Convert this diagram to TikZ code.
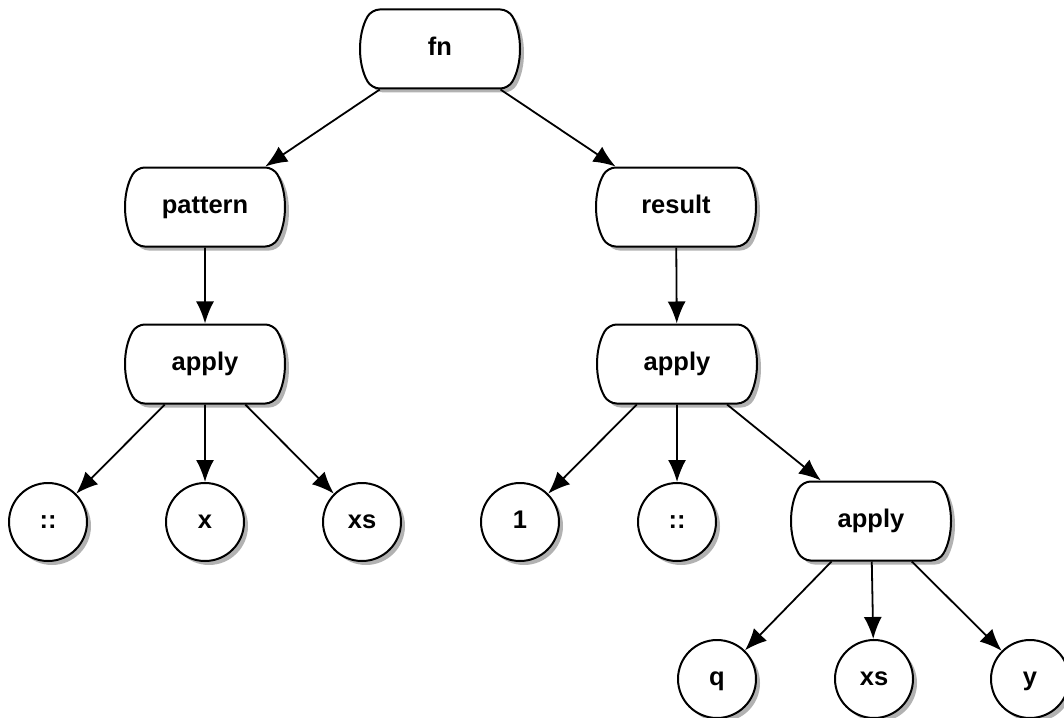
\documentclass[tikz,border=0pt]{standalone}
\usepackage{fontspec}
\setmainfont{Liberation Sans}
\usetikzlibrary{arrows.meta,shapes.misc,shadows}
\begin{document}
\begin{tikzpicture}[x=0.5pt,y=-0.5pt,>={Latex[length=11pt,width=9pt]},line join=round,font=\fontsize{12.75}{15}\selectfont\bfseries]
	\tikzset{
		shade/.style={drop shadow={shadow xshift=2pt,shadow yshift=-2pt,fill=black,opacity=.3}},
		box/.style={rounded rectangle,rounded rectangle arc length=60,rounded corners=4pt,draw,line width=1pt,fill=white,minimum height=39.5pt,inner sep=2pt,text height=9.3pt,text depth=2.8pt,shade},
		leaf/.style={circle,draw,line width=1pt,fill=white,minimum size=39pt,inner sep=0pt,text height=9.3pt,text depth=2.8pt,shade},
		link/.style={->,line width=.9pt}
	}
	\useasboundingbox (0,0) rectangle (1064,717);
	% inner nodes
	\node[box,minimum width=68pt] (fn) at (440,49) {fn};
	\node[box,minimum width=78pt] (pattern) at (205,207) {pattern};
	\node[box,minimum width=68.5pt] (result) at (676,207) {result};
	\node[box,minimum width=78.5pt] (applyL) at (205,364) {apply};
	\node[box,minimum width=78.5pt] (applyR) at (677,364) {apply};
	\node[box,minimum width=78.5pt] (applyB) at (871,521) {apply};
	% leaves
	\foreach \name/\x/\y/\txt in {c1/48/522/::,x1/205/522/x,xs1/362/522/xs,one/520/522/1,c2/677/522/::,q/717/679/q,xs2/874/679/xs,y1/1030/679/y}{
		\node[leaf] (\name) at (\x,\y) {\txt};
	}
	% edges
	\foreach \a/\b in {fn/pattern,fn/result,pattern/applyL,result/applyR,applyL/c1,applyL/x1,applyL/xs1,applyR/one,applyR/c2,applyR/applyB,applyB/q,applyB/xs2,applyB/y1}{
		\draw[link] (\a) -- (\b);
	}
\end{tikzpicture}
\end{document}
